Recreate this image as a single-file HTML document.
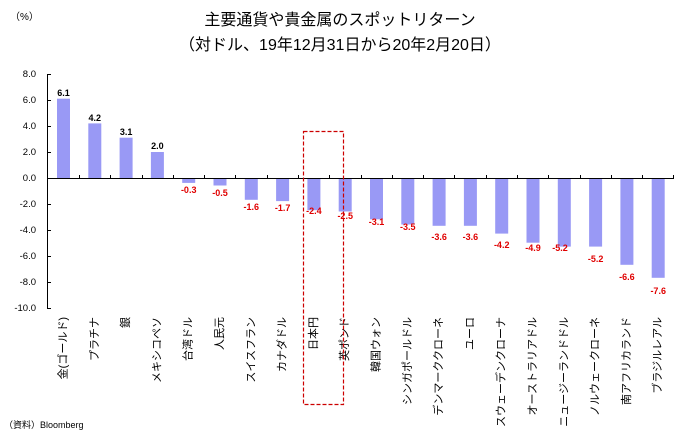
<!DOCTYPE html>
<html><head><meta charset="utf-8"><style>
html,body{margin:0;padding:0;background:#fff;}
svg{display:block;font-family:"Liberation Sans","Noto Sans CJK JP",sans-serif;}
.v{font-size:9px;font-weight:bold;text-anchor:middle;}
.n{fill:#e00000;}
.c{font-size:11px;text-anchor:end;dominant-baseline:central;}
.y{font-size:9.5px;text-anchor:end;}
</style></head><body>
<svg width="680" height="444" viewBox="0 0 680 444">
<text x="340" y="25" font-size="16" text-anchor="middle">主要通貨や貴金属のスポットリターン</text>
<text x="340" y="50" font-size="16" text-anchor="middle">（対ドル、19年12月31日から20年2月20日）</text>
<text x="10" y="20" font-size="10">（%）</text>
<text x="4" y="428" font-size="9">（資料）Bloomberg</text>
<g class="y">
<text x="36" y="77">8.0</text><text x="36" y="103">6.0</text><text x="36" y="129">4.0</text>
<text x="36" y="155">2.0</text><text x="36" y="181">0.0</text><text x="36" y="207">-2.0</text>
<text x="36" y="233">-4.0</text><text x="36" y="259">-6.0</text><text x="36" y="285">-8.0</text>
<text x="36" y="311">-10.0</text>
</g>
<g stroke="#000" stroke-width="1">
<line x1="47.5" y1="74" x2="47.5" y2="308"/>
<line x1="47.5" y1="178.5" x2="674" y2="178.5"/>
<line x1="47" y1="74.5" x2="51" y2="74.5"/><line x1="47" y1="100.5" x2="51" y2="100.5"/>
<line x1="47" y1="126.5" x2="51" y2="126.5"/><line x1="47" y1="152.5" x2="51" y2="152.5"/>
<line x1="47" y1="204.5" x2="51" y2="204.5"/><line x1="47" y1="230.5" x2="51" y2="230.5"/>
<line x1="47" y1="256.5" x2="51" y2="256.5"/><line x1="47" y1="282.5" x2="51" y2="282.5"/>
<line x1="47" y1="308.5" x2="51" y2="308.5"/>
<path d="M79.5 175v3M110.5 175v3M142.5 175v3M173.5 175v3M204.5 175v3M235.5 175v3M267.5 175v3M298.5 175v3M329.5 175v3M361.5 175v3M392.5 175v3M423.5 175v3M454.5 175v3M486.5 175v3M517.5 175v3M548.5 175v3M580.5 175v3M611.5 175v3M642.5 175v3M673.5 175v3"/>
</g>
<g fill="#9999f5">
<rect x="57" y="98.7" width="13" height="79.3"/>
<rect x="88.3" y="123.4" width="13" height="54.6"/>
<rect x="119.6" y="137.7" width="13" height="40.3"/>
<rect x="150.9" y="152" width="13" height="26"/>
<rect x="182.2" y="179" width="13" height="3.9"/>
<rect x="213.5" y="179" width="13" height="6.5"/>
<rect x="244.8" y="179" width="13" height="20.8"/>
<rect x="276.1" y="179" width="13" height="22.1"/>
<rect x="307.4" y="179" width="13" height="31.2"/>
<rect x="338.7" y="179" width="13" height="32.5"/>
<rect x="370" y="179" width="13" height="40.3"/>
<rect x="401.3" y="179" width="13" height="45.5"/>
<rect x="432.6" y="179" width="13" height="46.8"/>
<rect x="463.9" y="179" width="13" height="46.8"/>
<rect x="495.2" y="179" width="13" height="54.6"/>
<rect x="526.5" y="179" width="13" height="63.7"/>
<rect x="557.8" y="179" width="13" height="67.6"/>
<rect x="589.1" y="179" width="13" height="67.6"/>
<rect x="620.4" y="179" width="13" height="85.8"/>
<rect x="651.7" y="179" width="13" height="98.8"/>
</g>
<g class="v">
<text x="63.5" y="96">6.1</text><text x="94.8" y="121">4.2</text>
<text x="126.1" y="135">3.1</text><text x="157.4" y="149">2.0</text>
</g>
<g class="v n">
<text x="188.7" y="193">-0.3</text><text x="220" y="196">-0.5</text>
<text x="251.3" y="210">-1.6</text><text x="282.6" y="211">-1.7</text>
<text x="313.9" y="214">-2.4</text><text x="345.2" y="219">-2.5</text>
<text x="376.5" y="225">-3.1</text><text x="407.8" y="230">-3.5</text>
<text x="439.1" y="240">-3.6</text><text x="470.4" y="240">-3.6</text>
<text x="501.7" y="248">-4.2</text><text x="533" y="251">-4.9</text>
<text x="560" y="251">-5.2</text><text x="595.6" y="262">-5.2</text>
<text x="626.9" y="280">-6.6</text><text x="658.2" y="294">-7.6</text>
</g>
<g class="c">
<text transform="translate(63.5,317) rotate(-90)">金(ゴールド)</text>
<text transform="translate(94.8,317) rotate(-90)">プラチナ</text>
<text transform="translate(126.1,317) rotate(-90)">銀</text>
<text transform="translate(157.4,317) rotate(-90)">メキシコペソ</text>
<text transform="translate(188.7,317) rotate(-90)">台湾ドル</text>
<text transform="translate(220,317) rotate(-90)">人民元</text>
<text transform="translate(251.3,317) rotate(-90)">スイスフラン</text>
<text transform="translate(282.6,317) rotate(-90)">カナダドル</text>
<text transform="translate(313.9,317) rotate(-90)">日本円</text>
<text transform="translate(345.2,317) rotate(-90)">英ポンド</text>
<text transform="translate(376.5,317) rotate(-90)">韓国ウォン</text>
<text transform="translate(407.8,317) rotate(-90)">シンガポールドル</text>
<text transform="translate(439.1,317) rotate(-90)">デンマーククローネ</text>
<text transform="translate(470.4,317) rotate(-90)">ユーロ</text>
<text transform="translate(501.7,317) rotate(-90)">スウェーデンクローナ</text>
<text transform="translate(533,317) rotate(-90)">オーストラリアドル</text>
<text transform="translate(564.3,317) rotate(-90)">ニュージーランドドル</text>
<text transform="translate(595.6,317) rotate(-90)">ノルウェークローネ</text>
<text transform="translate(626.9,317) rotate(-90)">南アフリカランド</text>
<text transform="translate(658.2,317) rotate(-90)">ブラジルレアル</text>
</g>
<rect x="303.5" y="131.5" width="40" height="273" fill="none" stroke="#cc0000" stroke-width="1.2" stroke-dasharray="4,2"/>
</svg>
</body></html>
